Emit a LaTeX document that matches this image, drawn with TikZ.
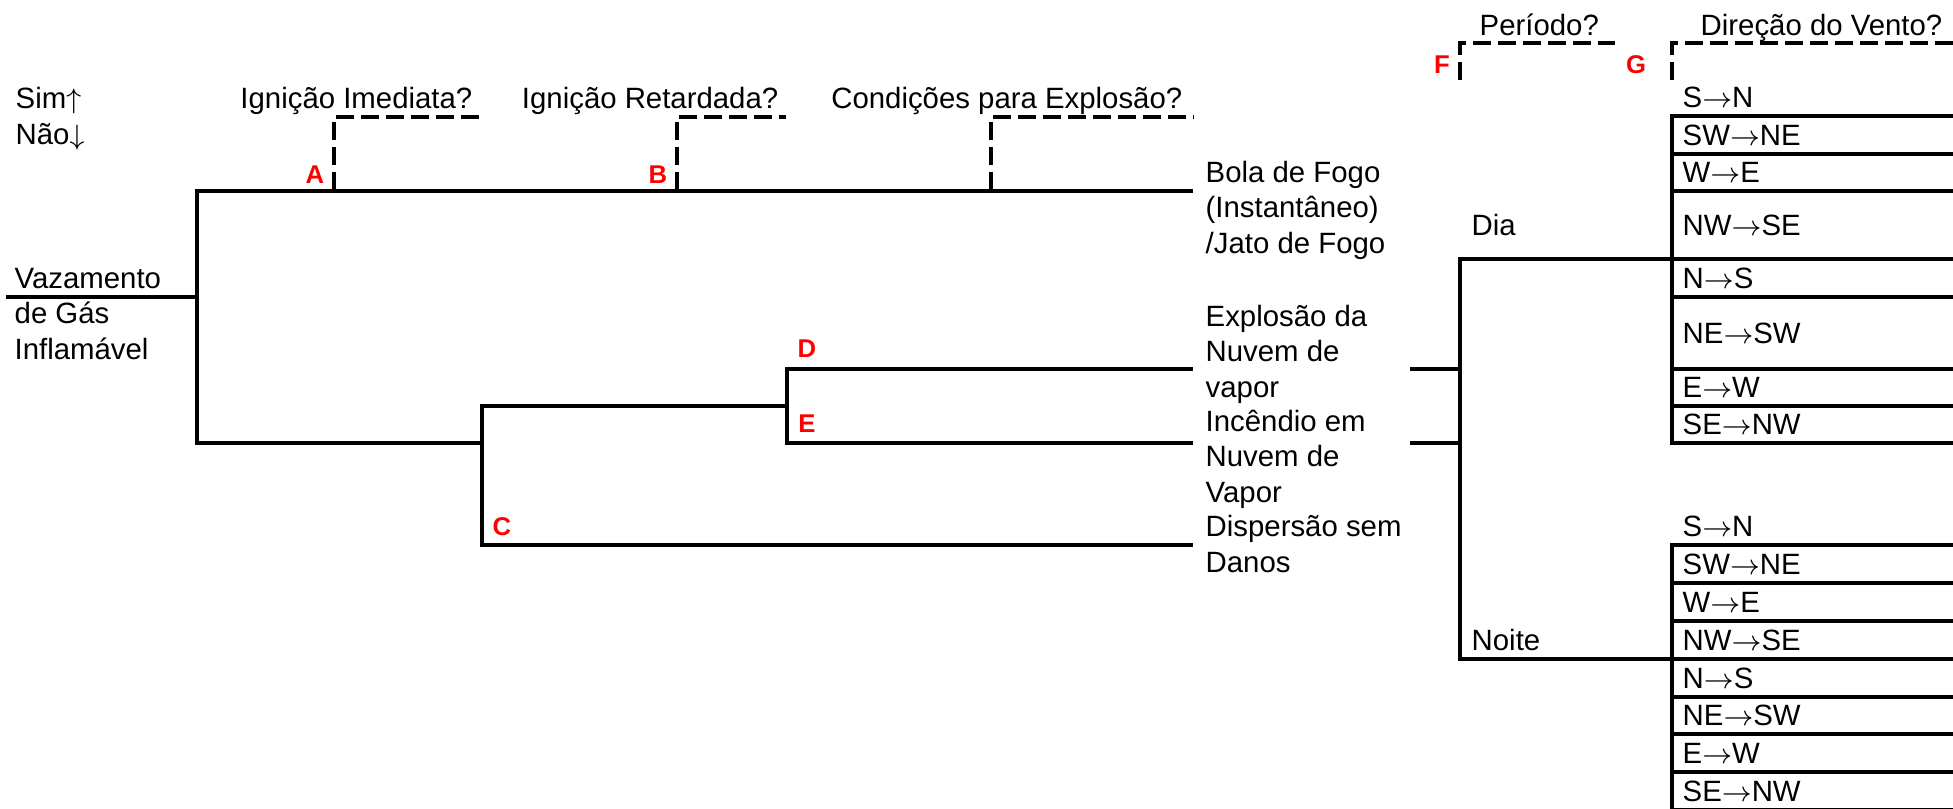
\documentclass[tikz,border=0pt]{standalone}
\usepackage{fontspec}
\setmainfont{Liberation Sans}
\newcommand{\wto}{$\rightarrow$}
\tikzset{
    evtxt/.style={inner sep=0pt, align=left, anchor=base west,
        font=\fontsize{8.35}{9.96}\selectfont},
    windtxt/.style={inner sep=0pt, anchor=west,
        font=\fontsize{8.35}{9.96}\selectfont},
    redlab/.style={inner sep=0pt, text=red,
        font=\fontsize{7.3}{8}\selectfont\bfseries},
    branch/.style={line width=1.05pt},
    qline/.style={line width=1.05pt, dash pattern=on 0.18cm off 0.07cm}
}
\begin{document}
\begin{tikzpicture}[x=0.01cm, y=-0.01cm]
\useasboundingbox (0,0) rectangle (1953,808);
\node[evtxt] (simnao) at (15,144) {Sim$\uparrow$\\Não$\downarrow$};
\node[evtxt, anchor=base east] (qimed) at (473,108) {Ignição Imediata?};
\node[evtxt, anchor=base east] (qret) at (779,108) {Ignição Retardada?};
\node[evtxt, anchor=base east] (qexpl) at (1183,108) {Condições para Explosão?};
\node[evtxt] (qper) at (1479,35) {Período?};
\node[evtxt] (qvento) at (1700,35) {Direção do Vento?};

\node[evtxt] (vaz) at (14,359) {Vazamento\\de Gás\\Inflamável};
\node[evtxt] (bola) at (1205,253) {Bola de Fogo\\(Instantâneo)\\/Jato de Fogo};
\node[evtxt] (nuvexp) at (1205,397) {Explosão da\\Nuvem de\\vapor};
\node[evtxt] (nuvinc) at (1205,502) {Incêndio em\\Nuvem de\\Vapor};
\node[evtxt] (disp) at (1205,572) {Dispersão sem\\Danos};
\node[evtxt] (dia) at (1471,235) {Dia};
\node[evtxt] (noite) at (1471,650) {Noite};

\node[redlab] (labA) at (315,175) {A};
\node[redlab] (labB) at (658,175) {B};
\node[redlab] (labC) at (502,527) {C};
\node[redlab] (labD) at (807,349) {D};
\node[redlab] (labE) at (807,424) {E};
\node[redlab] (labF) at (1442,65) {F};
\node[redlab] (labG) at (1636,65) {G};

% tree
\coordinate (src) at (6,297);
\coordinate (jA) at (197,297);
\coordinate (jC) at (482,443);
\coordinate (jDE) at (787,406);
\coordinate (eBola) at (1193,191);
\coordinate (eD) at (1193,369);
\coordinate (eE) at (1193,443);
\coordinate (eC) at (1193,545);
\draw[branch] (src) -- (jA);
\draw[branch] (eBola) -| (jA) |- (jC);
\draw[branch] (eC) -| (jC) |- (jDE);
\draw[branch] (eD) -| (jDE) |- (eE);

% question markers
\draw[qline] (334,190) |- (481,117);
\draw[qline] (677,190) |- (786,117);
\draw[qline] (991,190) |- (1194,117);
\draw[qline] (1460,80) |- (1615,43);
\draw[qline] (1672,80) |- (1953,43);

% period
\coordinate (sD) at (1410,369);
\coordinate (sE) at (1410,443);
\coordinate (jP1) at (1460,369);
\coordinate (jP2) at (1460,443);
\coordinate (eDia) at (1672,259);
\coordinate (eNoite) at (1672,659);
\draw[branch] (sD) -- (jP1);
\draw[branch] (sE) -- (jP2);
\draw[branch] (eDia) -| (jP1) -- (jP2) |- (eNoite);

% wind direction
\draw[branch] (1953,116) -| (1672,443) -- (1953,443);
\foreach \yy in {154,191,259,297,369,406}
    \draw[branch] (1672,\yy) -- (1953,\yy);
\draw[branch] (1460,259) -- (1672,259);
\draw[branch] (1953,545) -| (1672,830);
\foreach \yy in {583,621,659,697,734,772,810}
    \draw[branch] (1672,\yy) -- (1953,\yy);
\draw[branch] (1460,659) -- (1672,659);
\foreach \wlab/\wy [count=\k] in {S\wto N/97,SW\wto NE/135,W\wto E/172,NW\wto SE/225,N\wto S/278,NE\wto SW/333,E\wto W/387,SE\wto NW/424}
    \node[windtxt] (dw\k) at (1682,\wy) {\wlab};
\foreach \wlab/\wy [count=\k] in {S\wto N/526,SW\wto NE/564,W\wto E/602,NW\wto SE/640,N\wto S/678,NE\wto SW/715,E\wto W/753,SE\wto NW/791}
    \node[windtxt] (nw\k) at (1682,\wy) {\wlab};
\end{tikzpicture}
\end{document}
